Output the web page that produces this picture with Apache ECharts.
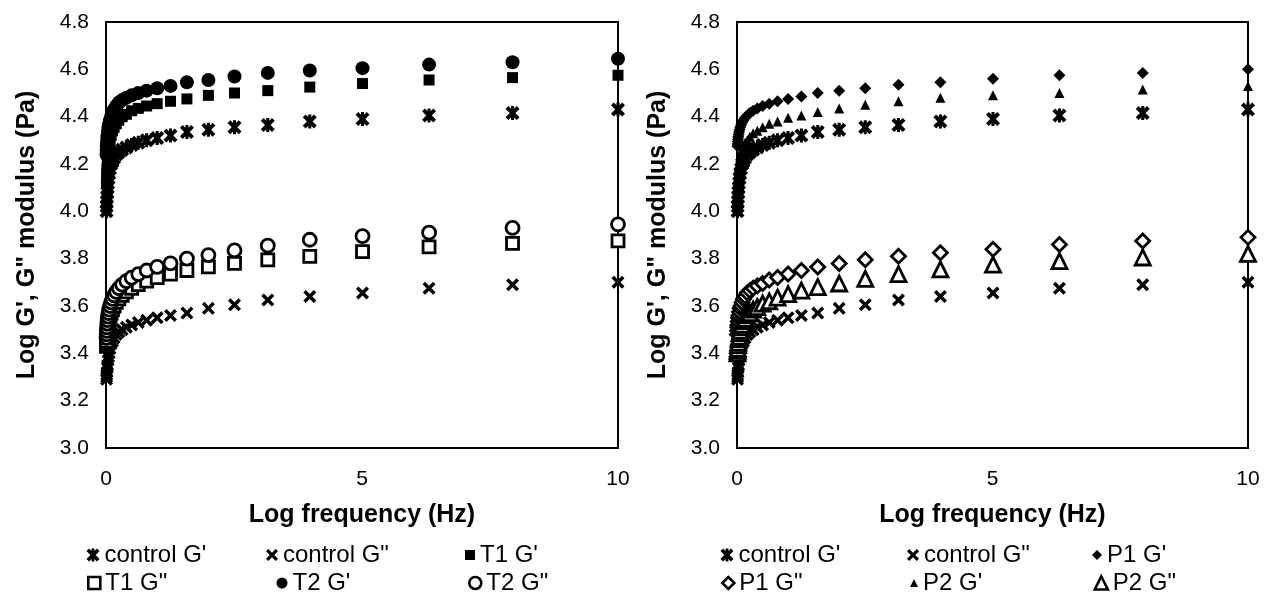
<!DOCTYPE html>
<html>
<head>
<meta charset="utf-8">
<script src="https://cdn.jsdelivr.net/npm/echarts@6/dist/echarts.min.js"></script>
<style>
html,body{margin:0;padding:0;background:#fff;}
#chart{width:1266px;height:602px;}
</style>
</head>
<body>
<div id="chart"></div>
<script>
// Frequency (Hz), shared by all series
const freq = [0.01, 0.0126, 0.0158, 0.02, 0.0251, 0.0316, 0.0398, 0.0501, 0.0631, 0.0794,
  0.1, 0.126, 0.158, 0.2, 0.251, 0.316, 0.398, 0.501, 0.631, 0.794,
  1, 1.26, 1.58, 2, 2.51, 3.16, 3.98, 5.01, 6.31, 7.94, 10];

const controlGp  = [4.00, 4.02, 4.04, 4.06, 4.08, 4.10, 4.12, 4.14, 4.16, 4.18,
  4.20, 4.21, 4.225, 4.24, 4.25, 4.26, 4.27, 4.28, 4.29, 4.30,
  4.31, 4.32, 4.335, 4.345, 4.355, 4.365, 4.38, 4.39, 4.405, 4.415, 4.43];
const controlGpp = [3.29, 3.30, 3.31, 3.32, 3.34, 3.35, 3.37, 3.385, 3.40, 3.42,
  3.44, 3.45, 3.465, 3.48, 3.49, 3.50, 3.51, 3.52, 3.53, 3.54,
  3.55, 3.56, 3.57, 3.59, 3.605, 3.625, 3.64, 3.655, 3.675, 3.69, 3.70];
const t1Gp  = [4.12, 4.14, 4.16, 4.18, 4.20, 4.22, 4.24, 4.26, 4.28, 4.30,
  4.32, 4.34, 4.355, 4.37, 4.385, 4.40, 4.41, 4.425, 4.435, 4.445,
  4.455, 4.465, 4.475, 4.49, 4.50, 4.51, 4.525, 4.54, 4.555, 4.565, 4.575];
const t1Gpp = [3.43, 3.44, 3.45, 3.465, 3.48, 3.495, 3.51, 3.525, 3.54, 3.555,
  3.57, 3.585, 3.60, 3.615, 3.63, 3.645, 3.66, 3.675, 3.69, 3.705,
  3.72, 3.735, 3.75, 3.765, 3.78, 3.795, 3.81, 3.83, 3.85, 3.865, 3.875];
const t2Gp  = [4.24, 4.26, 4.275, 4.29, 4.31, 4.32, 4.34, 4.355, 4.37, 4.385,
  4.40, 4.42, 4.43, 4.445, 4.46, 4.47, 4.48, 4.49, 4.50, 4.51,
  4.52, 4.53, 4.545, 4.555, 4.57, 4.585, 4.595, 4.605, 4.62, 4.63, 4.645];
const t2Gpp = [3.465, 3.48, 3.495, 3.51, 3.525, 3.54, 3.555, 3.57, 3.585, 3.60,
  3.615, 3.63, 3.645, 3.66, 3.675, 3.69, 3.705, 3.72, 3.735, 3.75,
  3.765, 3.78, 3.80, 3.815, 3.835, 3.855, 3.88, 3.895, 3.91, 3.93, 3.945];
const p1Gp  = [4.275, 4.285, 4.295, 4.305, 4.315, 4.325, 4.335, 4.345, 4.355, 4.365,
  4.375, 4.385, 4.395, 4.405, 4.415, 4.425, 4.435, 4.445, 4.455, 4.465,
  4.475, 4.485, 4.50, 4.51, 4.52, 4.535, 4.545, 4.56, 4.575, 4.585, 4.60];
const p1Gpp = [3.48, 3.495, 3.51, 3.52, 3.535, 3.55, 3.56, 3.575, 3.59, 3.60,
  3.615, 3.63, 3.64, 3.655, 3.665, 3.675, 3.685, 3.695, 3.71, 3.72,
  3.735, 3.75, 3.765, 3.78, 3.795, 3.81, 3.825, 3.84, 3.86, 3.875, 3.89];
const p2Gp  = [4.12, 4.13, 4.14, 4.155, 4.17, 4.185, 4.20, 4.215, 4.23, 4.245,
  4.26, 4.275, 4.29, 4.30, 4.315, 4.33, 4.34, 4.355, 4.37, 4.38,
  4.395, 4.405, 4.42, 4.435, 4.45, 4.465, 4.48, 4.49, 4.50, 4.515, 4.53];
const p2Gpp = [3.40, 3.41, 3.42, 3.435, 3.445, 3.46, 3.47, 3.485, 3.495, 3.51,
  3.52, 3.535, 3.545, 3.56, 3.57, 3.585, 3.595, 3.61, 3.62, 3.635,
  3.65, 3.665, 3.68, 3.695, 3.715, 3.735, 3.755, 3.775, 3.79, 3.805, 3.82];

const xTitle = 'Log frequency (Hz)';
const yTitle = 'Log G\', G" modulus (Pa)';

const FONT = '"Liberation Sans", Arial, sans-serif';
const STAR = 'path://M0,2L2,0L5,3L8,0L10,2L7,5L10,8L8,10L5,7L2,10L0,8L3,5Z M3.9,0L6.1,0L6.1,10L3.9,10Z';
const CROSS = 'path://M0,1.9L1.9,0L5,3.1L8.1,0L10,1.9L6.9,5L10,8.1L8.1,10L5,6.9L1.9,10L0,8.1L3.1,5Z';

const styles = {
  "control G'":  {symbol: STAR,  size: 14, fill: '#000', bw: 0, icon: 13},
  'control G"':  {symbol: CROSS, size: 13, fill: '#000', bw: 0, icon: 12},
  "T1 G'":       {symbol: 'rect', size: 11, fill: '#000', bw: 0, icon: 10},
  'T1 G"':       {symbol: 'rect', size: 12, fill: '#fff', bw: 2.8, icon: 12},
  "T2 G'":       {symbol: 'circle', size: 14, fill: '#000', bw: 0, icon: 11},
  'T2 G"':       {symbol: 'circle', size: 13, fill: '#fff', bw: 2.8, icon: 12},
  "P1 G'":       {symbol: 'diamond', size: 12, fill: '#000', bw: 0, icon: 10},
  'P1 G"':       {symbol: 'diamond', size: 14, fill: '#fff', bw: 2.8, icon: 12},
  "P2 G'":       {symbol: 'triangle', size: 10, fill: '#000', bw: 0, icon: 8},
  'P2 G"':       {symbol: 'triangle', size: 15, fill: '#fff', bw: 2.8, icon: 13}
};

const leftSeries = [["control G'", controlGp], ['control G"', controlGpp], ["T1 G'", t1Gp], ['T1 G"', t1Gpp], ["T2 G'", t2Gp], ['T2 G"', t2Gpp]];
const rightSeries = [["control G'", controlGp], ['control G"', controlGpp], ["P1 G'", p1Gp], ['P1 G"', p1Gpp], ["P2 G'", p2Gp], ['P2 G"', p2Gpp]];

function mkSeries(list, idx) {
  return list.map(([name, vals]) => {
    const s = styles[name];
    return {
      type: 'scatter', name: name, xAxisIndex: idx, yAxisIndex: idx,
      symbol: s.symbol, symbolSize: s.size,
      itemStyle: {color: s.fill, borderColor: s.bw ? '#000' : s.fill, borderWidth: s.bw, opacity: 1},
      emphasis: {disabled: true},
      data: freq.map((f, i) => [f, vals[i]])
    };
  });
}

function mkX(idx) {
  return {
    type: 'value', gridIndex: idx, min: 0, max: 10, interval: 5,
    axisLine: {show: false}, axisTick: {show: false}, splitLine: {show: false},
    axisLabel: {fontSize: 21, color: '#000', fontFamily: FONT, margin: 21},
    name: xTitle, nameLocation: 'middle', nameGap: 55,
    nameTextStyle: {fontSize: 25, fontWeight: 'bold', color: '#000', fontFamily: FONT}
  };
}
function mkY(idx) {
  return {
    type: 'value', gridIndex: idx, min: 3.0, max: 4.8, interval: 0.2,
    axisLine: {show: false}, axisTick: {show: false}, splitLine: {show: false},
    axisLabel: {fontSize: 21, color: '#000', fontFamily: FONT, margin: 17, formatter: v => v.toFixed(1)},
    name: yTitle, nameLocation: 'middle', nameGap: 66,
    nameTextStyle: {fontSize: 25, fontWeight: 'bold', color: '#000', fontFamily: FONT}
  };
}

// [name, icon centre x, row]
const legendPos = [
  ["control G'", 93, 0], ['control G"', 272, 0], ["T1 G'", 470, 0],
  ['T1 G"', 93, 1], ["T2 G'", 282, 1], ['T2 G"', 474, 1],
  ["control G'", 727, 0], ['control G"', 913, 0], ["P1 G'", 1097, 0],
  ['P1 G"', 727, 1], ["P2 G'", 914, 1], ['P2 G"', 1100, 1]
];
const legends = legendPos.map(([name, cx, row]) => {
  const s = styles[name];
  return {
    data: [name], left: cx - s.icon / 2, top: row ? 571 : 543, padding: 0,
    itemWidth: s.icon, itemHeight: s.icon, selectedMode: false,
    itemStyle: {borderWidth: s.bw ? 2.6 : 0, borderColor: '#000'},
    textStyle: {fontSize: 24, color: '#000', fontFamily: FONT}
  };
});

const chart = echarts.init(document.getElementById('chart'));
chart.setOption({
  animation: false,
  backgroundColor: '#fff',
  grid: [
    {left: 106, top: 22, width: 512, height: 426, show: true, borderColor: '#000', borderWidth: 2, backgroundColor: 'transparent'},
    {left: 737, top: 22, width: 511, height: 426, show: true, borderColor: '#000', borderWidth: 2, backgroundColor: 'transparent'}
  ],
  xAxis: [mkX(0), mkX(1)],
  yAxis: [mkY(0), mkY(1)],
  legend: legends,
  series: mkSeries(leftSeries, 0).concat(mkSeries(rightSeries, 1))
});
</script>
</body>
</html>
